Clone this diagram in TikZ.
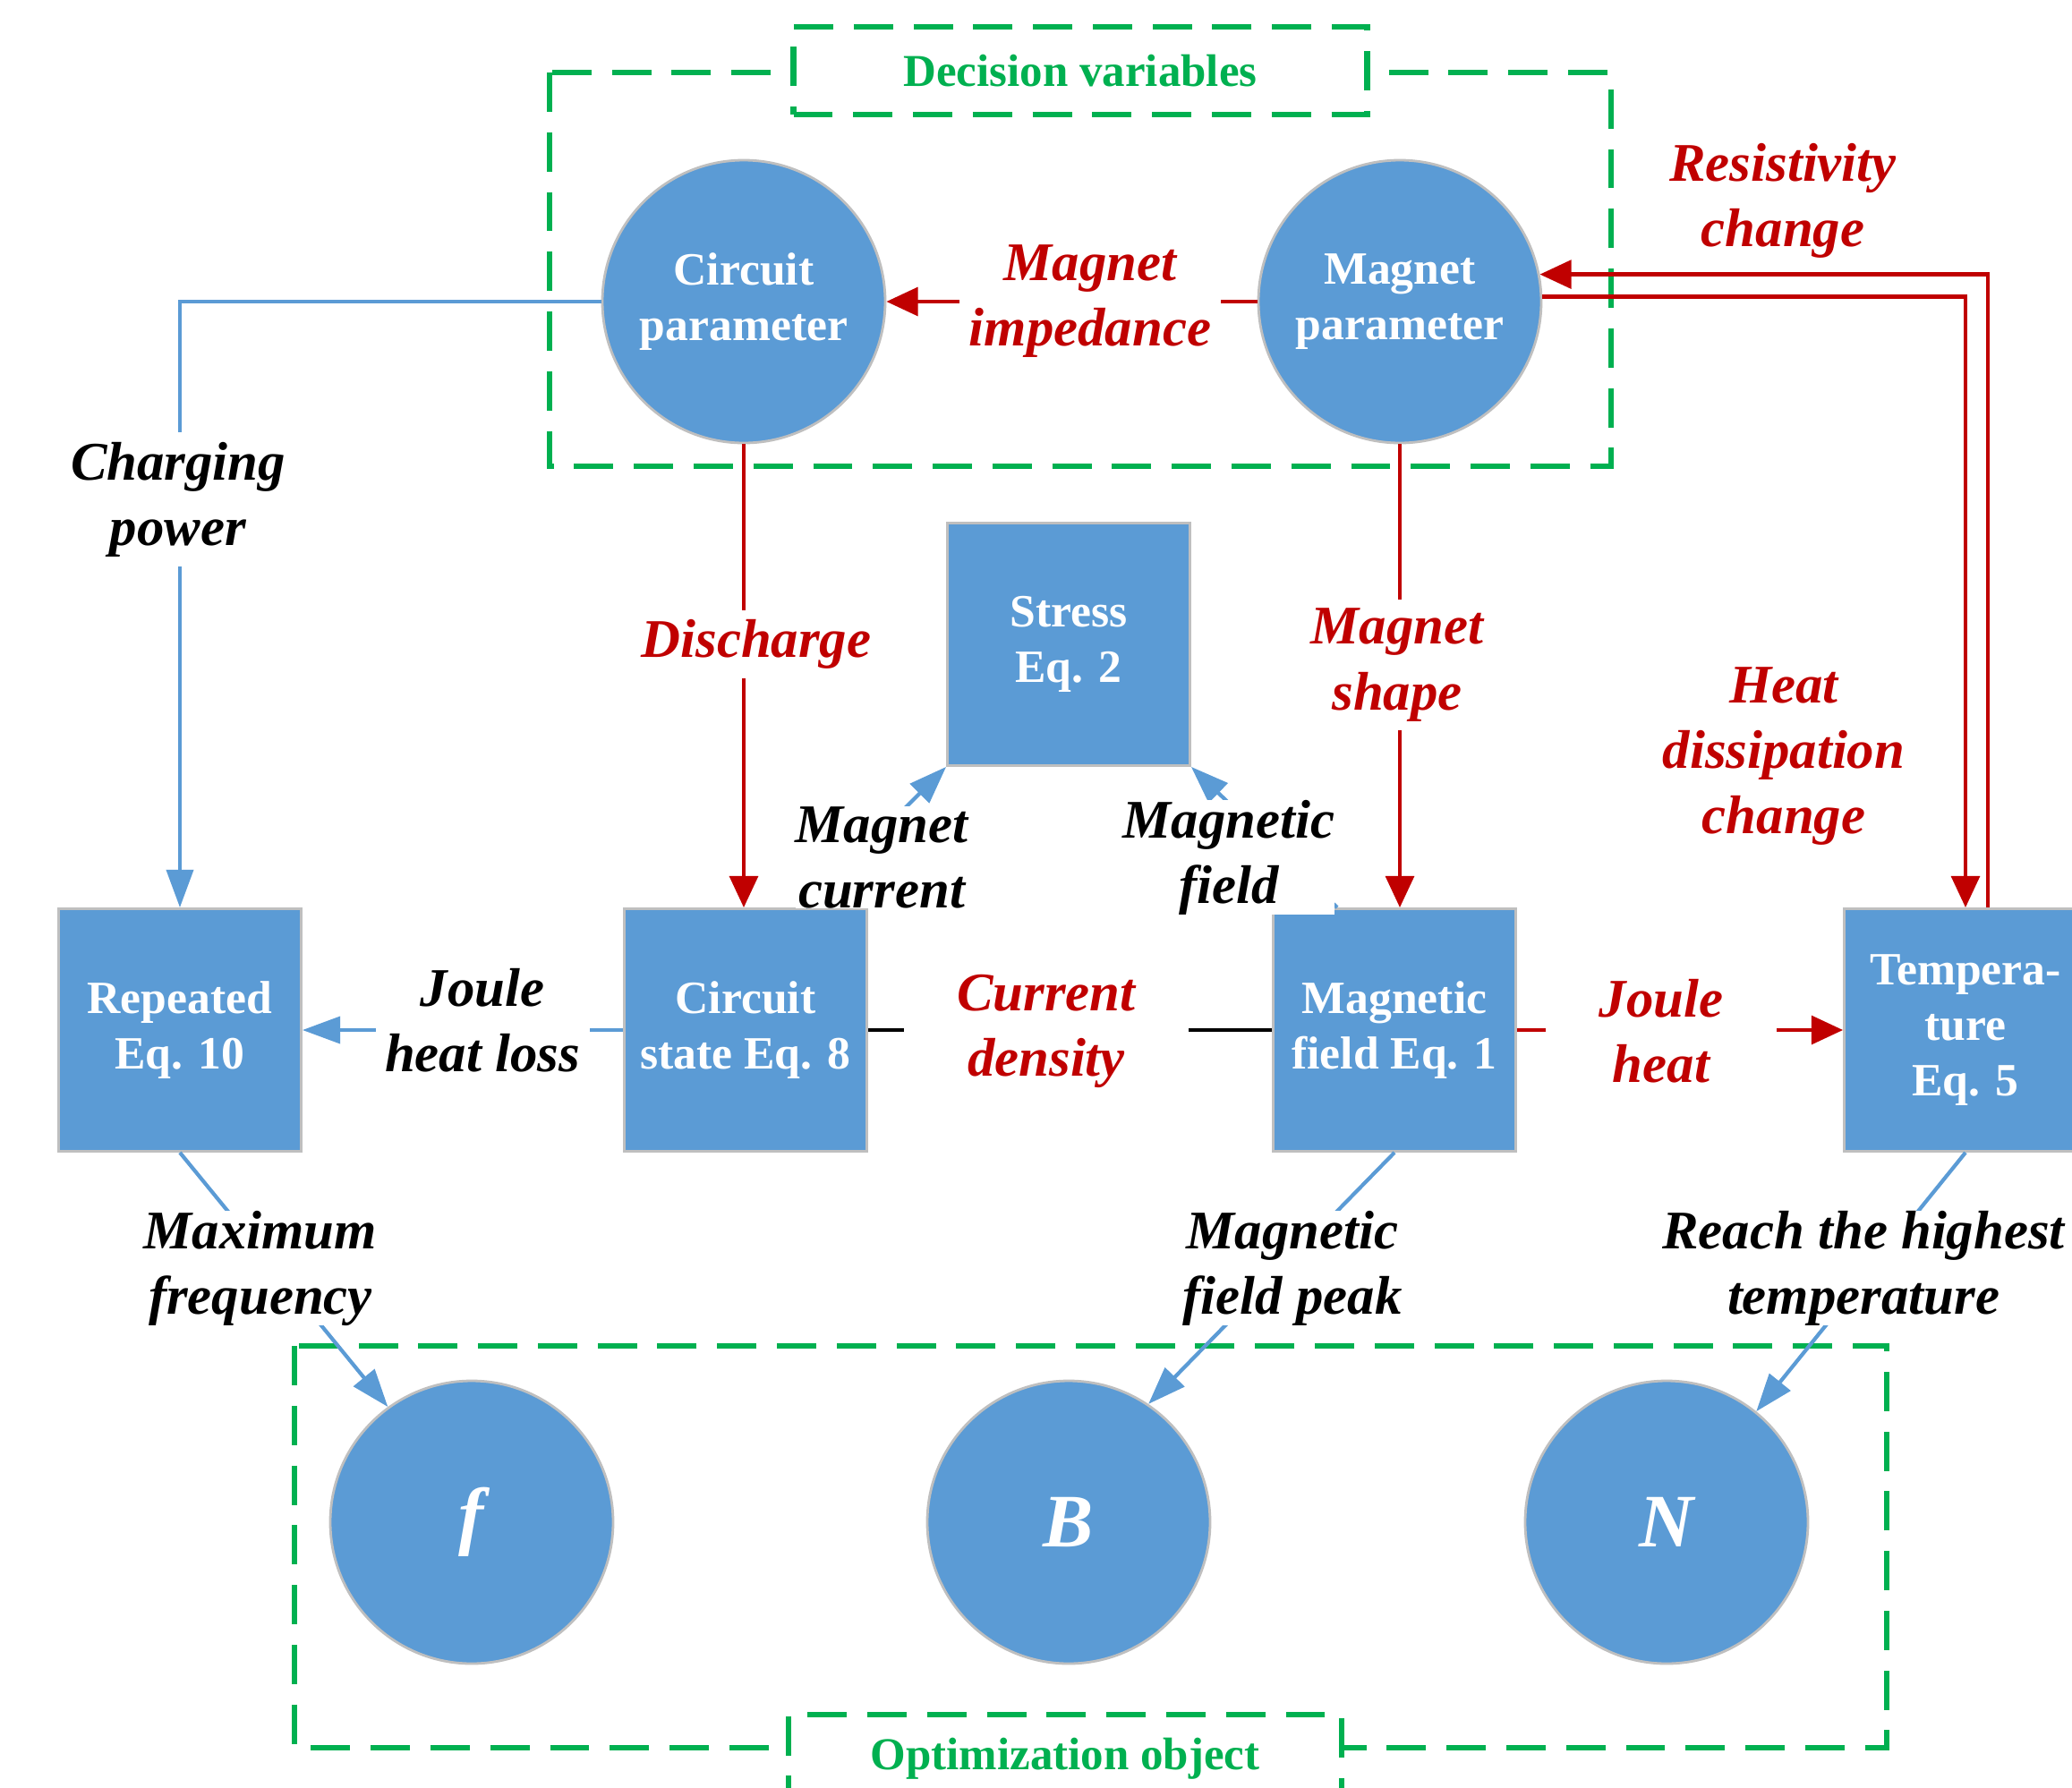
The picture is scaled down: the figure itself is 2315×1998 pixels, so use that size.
\documentclass[tikz,border=0pt]{standalone}
\usepackage{fontspec}
\setmainfont{Liberation Serif}
\usetikzlibrary{arrows.meta,positioning}
\definecolor{nodeblue}{HTML}{5B9BD5}
\definecolor{darkred}{HTML}{C00000}
\definecolor{boxgreen}{HTML}{00B050}

\begin{document}
\begin{tikzpicture}[x=0.1mm,y=-0.1mm,
  circ/.style={circle,draw=black!25,line width=0.8pt,fill=nodeblue,minimum size=3.16cm,inner sep=0pt,
    text=white,align=center,font=\bfseries\fontsize{14.7}{17.6}\selectfont},
  eqbox/.style={rectangle,draw=black!25,line width=0.8pt,fill=nodeblue,minimum size=2.71cm,inner sep=0pt,
    text=white,align=center,font=\bfseries\fontsize{14.7}{17.6}\selectfont},
  objtext/.style={font=\bfseries\itshape\fontsize{24}{28}\selectfont},
  blueline/.style={nodeblue,line width=1.2pt},
  redline/.style={darkred,line width=1.2pt},
  barr/.style={-{Triangle[length=12pt,width=8.5pt]}},
  rarr/.style={-{Triangle[length=10pt,width=9pt]}},
  redlbl/.style={fill=white,inner sep=3pt,text=darkred,align=center,font=\bfseries\itshape\fontsize{17.3}{20.8}\selectfont},
  blklbl/.style={fill=white,inner sep=3pt,text=black,align=center,font=\bfseries\itshape\fontsize{17.3}{20.8}\selectfont},
  grpframe/.style={draw=boxgreen,line width=1.8pt,dash pattern=on 12.5pt off 6.5pt},
  grplbl/.style={grpframe,fill=white,minimum height=0.98cm,text=boxgreen,font=\bfseries\fontsize{14.5}{17}\selectfont}]
  \useasboundingbox (0,0) rectangle (2315,1998);

  % group frames
  \draw[grpframe] (614,81) rectangle (1800,521);
  \draw[grpframe] (329,1504) rectangle (2108,1953);
  \node[grplbl,minimum width=6.41cm] (dvlabel) at (1207,79) {Decision variables};
  \node[grplbl,minimum width=6.18cm] (oblabel) at (1190,1965) {Optimization object};

  % variables, models and objects
  \node[circ] (cpar) at (831,337) {Circuit\\parameter};
  \node[circ] (mpar) at (1564,337) {Magnet\\parameter};
  \node[eqbox] (stress) at (1194,720) {Stress\\Eq. 2};
  \node[eqbox] (rep) at (201,1151) {Repeated\\Eq. 10};
  \node[eqbox] (cstate) at (833,1151) {Circuit\\state Eq. 8};
  \node[eqbox] (mfield) at (1558,1151) {Magnetic\\field Eq. 1};
  \node[eqbox] (temp) at (2196,1151) {Tempera-\\ture\\Eq. 5};
  \node[circ,objtext] (f) at (527,1701) {f};
  \node[circ,objtext] (B) at (1194,1701) {B};
  \node[circ,objtext] (N) at (1862,1701) {N};

  \coordinate (tback) at ([xshift=2.5mm]temp.north);
  \coordinate (cout) at ([xshift=6.7mm]cstate.north);
  \coordinate (mout) at ([xshift=-6.4mm]mfield.north);

  % connectors
  \draw[blueline,barr] (cpar.west) -| (rep.north);
  \draw[redline,rarr] (cpar.south) -- (cpar.south |- cstate.north);
  \draw[redline,rarr] (mpar.west) -- (cpar.east);
  \draw[redline,rarr] (mpar.south) -- (mpar.south |- mfield.north);
  \draw[redline,rarr] (mpar.2) -| (temp.north);
  \draw[redline,rarr] (tback) |- (mpar.11);
  \draw[blueline,barr] (cout) -- (stress.south west);
  \draw[blueline,barr] (mout) -- (stress.south east);
  \draw[blueline,barr] (cstate.west) -- (rep.east);
  \draw[black,line width=1.2pt] (cstate.east) -- (mfield.west);
  \draw[redline,rarr] (mfield.east) -- (temp.west);
  \draw[blueline,barr] (rep.south) -- (f.126);
  \draw[blueline,barr] (mfield.south) -- (B.56);
  \draw[blueline,barr] (temp.south) -- (N.51);

  % labels
  \node[blklbl] (lcharge) at (199,558) {Charging\\power};
  \node[redlbl] (ldis) at (845,720) {Discharge};
  \node[redlbl] (limp) at (1218,337) {Magnet\\impedance};
  \node[redlbl] (lshape) at (1561,743) {Magnet\\shape};
  \node[redlbl,fill=none] (lres) at (1992,224) {Resistivity\\change};
  \node[redlbl,fill=none] (lheat) at (1993,845) {Heat\\dissipation\\change};
  \node[blklbl,inner sep=0pt] (lcur) at (985,958) {Magnet\\current};
  \node[blklbl,inner sep=0pt] (lfld) at (1373,958) {Magnetic\\field};
  \node[blklbl] (lloss) at (539,1140) {Joule\\heat loss};
  \node[redlbl,inner xsep=17pt] (ldens) at (1169,1152) {Current\\density};
  \node[redlbl,inner xsep=17pt] (ljoule) at (1856,1152) {Joule\\heat};
  \node[blklbl,inner sep=0pt] (lfreq) at (291,1417) {Maximum\\frequency};
  \node[blklbl,inner sep=0pt] (lpeak) at (1444,1417) {Magnetic\\field peak};
  \node[blklbl,inner sep=0pt] (lhigh) at (2082,1417) {Reach the highest\\temperature};
\end{tikzpicture}
\end{document}
